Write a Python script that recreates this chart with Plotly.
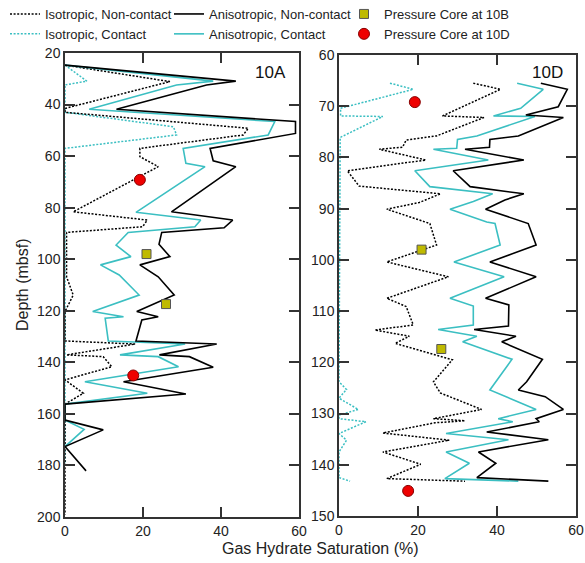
import plotly.graph_objects as go

# ---------------- Data: Hole 10A ----------------
a_aniso_nc_depth = [24.7, 30.9, 32.4, 41.8, 46.6, 51.2, 57.0, 61.8, 64.1, 81.6, 84.8, 87.8, 89.6, 94.2, 99.0, 102.2,
                    106.8, 113.9, 120.3, 122.3, 123.6, 131.7, 132.9, 137.1, 137.8, 141.9, 147.5, 152.3, 156.2, 162.4,
                    166.2, 172.7, 182.1]
a_aniso_nc_sat = [0, 43.8, 36.3, 13.2, 59.1, 59.1, 37.2, 38.0, 43.8, 27.3, 43.0, 40.8, 24.8, 24.1, 26.9, 19.2,
                  23.9, 28.0, 18.4, 23.9, 19.7, 18.2, 38.9, 24.2, 31.9, 38.0, 15.0, 31.0, 0, 0,
                  9.8, 0, 5.4]

a_aniso_c_depth = [24.7, 30.9, 32.4, 41.8, 46.6, 51.8, 57.0, 62.8, 64.1, 81.8, 84.8, 87.4, 89.6, 94.5, 99.0, 102.2,
                   106.1, 113.9, 120.3, 122.3, 122.9, 131.7, 132.9, 137.1, 137.8, 141.7, 147.5, 152.0, 156.2, 162.4,
                   166.0, 172.7]
a_aniso_c_sat = [0, 38.0, 28.6, 6.2, 53.8, 52.1, 30.3, 31.0, 35.9, 18.2, 34.8, 33.3, 16.2, 13.1, 16.9, 9.1,
                 13.9, 19.0, 7.1, 15.0, 10.3, 11.1, 30.8, 14.1, 23.9, 29.1, 5.1, 21.1, 0, 0,
                 4.9, 0]

a_iso_nc_depth = [24.7, 31.1, 32.4, 41.5, 43.0, 49.2, 51.8, 57.0, 60.2, 64.1, 81.6, 84.8, 87.4, 89.6, 106.8, 113.9,
                  120.3, 131.7, 132.9, 137.1, 137.8, 141.7, 146.8, 152.0, 156.2, 199.0]
a_iso_nc_sat = [0, 26.9, 23.5, 0, 0, 47.0, 45.7, 19.2, 19.2, 23.9, 2.1, 21.1, 19.9, 0.4, 0.4, 2.1,
                0, 0, 18.0, 0.4, 9.8, 12.0, 0, 4.7, 0, 0]

a_iso_c_depth = [24.7, 30.9, 32.4, 43.0, 48.6, 51.8, 57.0, 180.0]
a_iso_c_sat = [0, 5.6, 0, 0, 27.8, 28.6, 0, 0]

# ---------------- Data: Hole 10D ----------------
d_aniso_nc_depth = [65.5, 66.7, 70.1, 71.7, 72.2, 75.8, 76.5, 78.0, 78.4, 80.5, 82.6, 85.7, 87.1, 88.3, 90.1, 92.9,
                    97.1, 100.4, 103.3, 107.5, 108.8, 112.9, 113.6, 114.9, 116.0, 119.4, 123.8, 125.4, 126.7, 129.2,
                    131.0, 131.6, 133.6, 135.1, 137.5, 139.7, 142.5, 143.2]
d_aniso_nc_sat = [51.1, 57.8, 55.5, 47.3, 56.8, 45.4, 38.2, 38.1, 31.9, 46.8, 28.9, 33.2, 46.8, 42.0, 37.1, 47.9,
                  49.9, 38.2, 49.9, 37.1, 43.0, 42.9, 34.2, 44.8, 41.2, 51.5, 47.5, 45.4, 52.2, 56.8,
                  49.9, 50.7, 37.4, 53.0, 35.3, 39.7, 34.9, 53.0]

d_aniso_c_depth = [65.5, 66.7, 70.4, 71.9, 72.0, 75.8, 76.5, 78.2, 78.4, 80.5, 82.6, 85.7, 87.1, 88.6, 90.1, 92.6,
                   92.9, 97.1, 100.4, 103.3, 107.5, 109.0, 112.7, 113.6, 114.9, 116.0, 119.4, 125.4, 129.2, 131.0,
                   131.6, 133.9, 135.1, 137.5, 139.7, 142.7, 143.2]
d_aniso_c_sat = [45.1, 51.7, 46.0, 39.1, 49.6, 34.9, 30.0, 29.8, 23.9, 37.8, 19.2, 23.0, 38.9, 34.0, 28.1, 37.4,
                 39.5, 40.8, 29.1, 41.8, 28.1, 34.0, 34.0, 25.1, 34.9, 31.3, 43.8, 38.2, 49.9, 40.3,
                 44.0, 27.1, 42.9, 27.1, 33.0, 26.8, 45.4]

d_iso_nc_depth = [65.5, 66.7, 71.9, 72.2, 75.8, 76.6, 78.0, 78.4, 80.5, 82.6, 85.6, 87.1, 88.8, 90.1, 92.9, 97.1,
                  100.4, 103.3, 107.5, 109.1, 112.7, 113.7, 114.9, 116.3, 119.5, 123.8, 125.3, 126.0, 129.2, 131.0,
                  131.4, 131.8, 133.8, 135.2, 137.5, 139.9, 142.7, 143.2]
d_iso_nc_sat = [34.0, 40.9, 26.2, 36.7, 24.7, 17.0, 16.1, 10.2, 22.0, 2.1, 5.1, 25.7, 20.3, 12.1, 23.0, 24.7,
                12.1, 27.7, 12.1, 17.0, 18.8, 9.1, 17.8, 14.2, 28.7, 23.9, 25.1, 25.7, 36.1, 23.9,
                31.9, 24.3, 11.1, 27.9, 11.1, 20.7, 12.1, 31.9]

d_iso_c_depth = [65.5, 66.7, 70.4, 71.9, 72.0, 76.1, 123.8, 125.3, 127.0, 129.2, 130.3, 131.0, 131.6, 133.9, 135.2,
                 137.5, 142.5, 143.2]
d_iso_c_sat = [12.9, 18.8, 0.4, 0.4, 11.1, 0.3, 0, 1.9, 0, 4.9, 0, 0, 6.8, 0, 1.9,
               0, 0, 2.8]

# ---------------- Pressure cores ----------------
pc_10b_sat = [20.9, 25.9]
pc_10b_depth = [98.0, 117.4]
pc_10d_sat = [19.2, 17.5]
pc_10d_depth = [69.2, 145.1]

names = ["Isotropic, Non-contact", "Isotropic, Contact", "Anisotropic, Non-contact",
         "Anisotropic, Contact", "Pressure Core at 10B", "Pressure Core at 10D"]

BLACK = "#000000"
CYAN = "#3BBFC2"
DOT = "2px,1.6px"
FONT = "Arial, Liberation Sans, sans-serif"
W, H = 585, 563
ML, MR, MT, MB = 65, 9, 53, 46
PW, PH = W - ML - MR, H - MT - MB


def px(xpix):
    return (xpix - ML) / PW


def py(ypix):
    return (H - MB - ypix) / PH


fig = go.Figure()

panels = [
    ("x", "y", a_iso_nc_sat, a_iso_nc_depth, a_iso_c_sat, a_iso_c_depth,
     a_aniso_nc_sat, a_aniso_nc_depth, a_aniso_c_sat, a_aniso_c_depth, True),
    ("x2", "y2", d_iso_nc_sat, d_iso_nc_depth, d_iso_c_sat, d_iso_c_depth,
     d_aniso_nc_sat, d_aniso_nc_depth, d_aniso_c_sat, d_aniso_c_depth, False),
]

for (xa, ya, inc_x, inc_y, ic_x, ic_y, anc_x, anc_y, ac_x, ac_y, show) in panels:
    fig.add_trace(go.Scatter(x=ic_x, y=ic_y, mode="lines", name=names[1], xaxis=xa, yaxis=ya,
                             line=dict(color=CYAN, width=1.5, dash=DOT), showlegend=show,
                             legend="legend", legendrank=2))
    fig.add_trace(go.Scatter(x=inc_x, y=inc_y, mode="lines", name=names[0], xaxis=xa, yaxis=ya,
                             line=dict(color=BLACK, width=1.5, dash=DOT), showlegend=show,
                             legend="legend", legendrank=1))
    fig.add_trace(go.Scatter(x=ac_x, y=ac_y, mode="lines", name=names[3], xaxis=xa, yaxis=ya,
                             line=dict(color=CYAN, width=1.6), showlegend=show,
                             legend="legend2", legendrank=2))
    fig.add_trace(go.Scatter(x=anc_x, y=anc_y, mode="lines", name=names[2], xaxis=xa, yaxis=ya,
                             line=dict(color=BLACK, width=1.6), showlegend=show,
                             legend="legend2", legendrank=1))
    fig.add_trace(go.Scatter(x=pc_10b_sat, y=pc_10b_depth, mode="markers", name=names[4], xaxis=xa, yaxis=ya,
                             marker=dict(symbol="square", size=9, color="#BFBA00",
                                         line=dict(color="#555555", width=1)),
                             showlegend=show, legend="legend3", legendrank=1))
    fig.add_trace(go.Scatter(x=pc_10d_sat, y=pc_10d_depth, mode="markers", name=names[5], xaxis=xa, yaxis=ya,
                             marker=dict(symbol="circle", size=11, color="#EE0000",
                                         line=dict(color="#880000", width=1)),
                             showlegend=show, legend="legend3", legendrank=2))

axis_common = dict(showgrid=False, zeroline=False, showline=True, linecolor="#333333", linewidth=1.5,
                   mirror="ticks", ticks="inside", ticklen=10, tickwidth=1.5, tickcolor="#333333",
                   automargin=False,
                   tickfont=dict(size=14, color="#222222", family=FONT))

legend_common = dict(yanchor="top", xanchor="left", orientation="v",
                     font=dict(size=13, color="#222222", family=FONT), bgcolor="rgba(0,0,0,0)",
                     tracegroupgap=0, itemwidth=30)

fig.update_layout(
    width=W, height=H,
    margin=dict(l=ML, r=MR, t=MT, b=MB, autoexpand=False),
    paper_bgcolor="white", plot_bgcolor="white",
    font=dict(family=FONT, color="#222222"),
    xaxis=dict(domain=[px(65), px(299)], range=[0, 60], tickvals=[0, 20, 40, 60], anchor="y", **axis_common),
    yaxis=dict(domain=[py(517), py(53)], range=[200, 20], tickvals=list(range(20, 201, 20)),
               anchor="x", **axis_common),
    xaxis2=dict(domain=[px(339), px(576)], range=[0, 60], tickvals=[0, 20, 40, 60], anchor="y2", **axis_common),
    yaxis2=dict(domain=[py(516), py(55)], range=[150, 60], tickvals=list(range(60, 151, 10)),
                anchor="x2", **axis_common),
    legend=dict(x=px(5), y=py(-1), **legend_common),
    legend2=dict(x=px(169), y=py(-1), **legend_common),
    legend3=dict(x=px(344), y=py(-1), **legend_common),
    annotations=[
        dict(text="10A", x=px(288), y=py(72.5), xref="paper", yref="paper", xanchor="right",
             yanchor="middle", showarrow=False, font=dict(size=17, color="#111111", family=FONT)),
        dict(text="10D", x=px(565), y=py(72.5), xref="paper", yref="paper", xanchor="right",
             yanchor="middle", showarrow=False, font=dict(size=17, color="#111111", family=FONT)),
        dict(text="Gas Hydrate Saturation (%)", x=px(320), y=py(548), xref="paper", yref="paper",
             xanchor="center", yanchor="middle", showarrow=False,
             font=dict(size=16, color="#222222", family=FONT)),
        dict(text="Depth (mbsf)", x=px(22), y=py(285), xref="paper", yref="paper",
             xanchor="center", yanchor="middle", showarrow=False, textangle=-90,
             font=dict(size=16, color="#222222", family=FONT)),
    ],
)

fig.write_html("out.html", config={"displayModeBar": False},
               post_script="document.body.style.margin='0px';")
